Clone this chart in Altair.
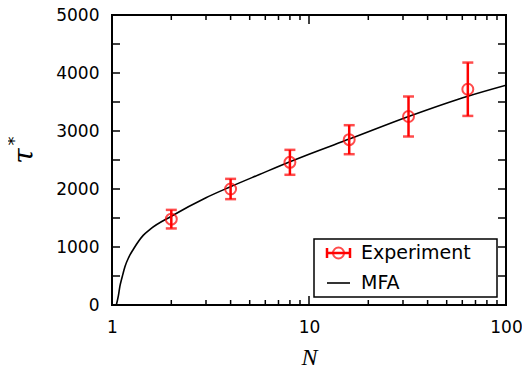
import altair as alt
import pandas as pd

# Experimental data
N_exp = [2, 4, 8, 16, 32, 64]
tau_exp = [1480, 2000, 2460, 2850, 3250, 3720]
err_exp = [160, 175, 215, 250, 345, 460]

# MFA curve
N_mfa = [1.052, 1.077, 1.097, 1.128, 1.163, 1.218, 1.286, 1.44, 1.56, 2, 3, 4, 5.6, 8, 10, 16, 32, 64, 100]
tau_mfa = [0, 156, 324, 492, 660, 827, 966, 1200, 1305, 1530, 1850, 2040, 2250, 2470, 2600, 2860, 3250, 3600, 3790]

# ticks
x_labels = [1, 10, 100]
x_minor = [2, 3, 4, 5, 6, 7, 8, 9, 20, 30, 40, 50, 60, 70, 80, 90]
y_labels = [0, 1000, 2000, 3000, 4000, 5000]
y_ticks = [0, 500, 1000, 1500, 2000, 2500, 3000, 3500, 4000, 4500, 5000]
legend_labels = ["Experiment", "MFA"]

W, H = 394, 290
RED = "#ff0000"

exp_df = pd.DataFrame({"N": N_exp, "tau": tau_exp, "err": err_exp})
exp_df["lo"] = exp_df["tau"] - exp_df["err"]
exp_df["hi"] = exp_df["tau"] + exp_df["err"]
mfa_df = pd.DataFrame({"N": N_mfa, "tau": tau_mfa})
one = pd.DataFrame({"a": [0]})

xs = alt.Scale(type="log", domain=[1, 100], nice=False, padding=0)
ys = alt.Scale(domain=[0, 5000], nice=False, zero=False, padding=0)

xax = alt.Axis(values=x_labels, format="d", ticks=False, domain=False, grid=False, labelFlush=False,
               labelFont="DejaVu Sans", labelFontSize=17, labelColor="black",
               labelPadding=14, title="N", titleFont="Liberation Serif",
               titleFontStyle="italic", titleFontWeight="normal", titleFontSize=24,
               titleColor="black", titlePadding=10)
yax = alt.Axis(values=y_labels, format="d", ticks=False, domain=False, grid=False, labelFlush=False,
               labelFont="DejaVu Sans", labelFontSize=17, labelColor="black",
               labelPadding=13, title=None)

line = alt.Chart(mfa_df).mark_line(color="black", strokeWidth=1.6, interpolate="monotone", clip=True).encode(
    x=alt.X("N:Q", scale=xs, axis=xax),
    y=alt.Y("tau:Q", scale=ys, axis=yax),
)

bars = alt.Chart(exp_df).mark_errorbar(color=RED, thickness=2.5, ticks={"size": 11, "thickness": 2.5}).encode(
    x=alt.X("N:Q", scale=xs),
    y=alt.Y("lo:Q", scale=ys, title=None),
    y2="hi:Q",
)

pts = alt.Chart(exp_df).mark_point(shape="circle", size=120, color=RED, strokeWidth=2, filled=False).encode(
    x=alt.X("N:Q", scale=xs),
    y=alt.Y("tau:Q", scale=ys),
)

# inward ticks
ydf = pd.DataFrame({"v": y_ticks})
xmaj = pd.DataFrame({"v": x_labels})
xmin = pd.DataFrame({"v": x_minor})
tk = dict(color="black", strokeWidth=1.5)
yl = alt.Chart(ydf).mark_rule(**tk).encode(y=alt.Y("v:Q", scale=ys), x=alt.value(0), x2=alt.value(8))
yr = alt.Chart(ydf).mark_rule(**tk).encode(y=alt.Y("v:Q", scale=ys), x=alt.value(W - 8), x2=alt.value(W))
xb1 = alt.Chart(xmaj).mark_rule(**tk).encode(x=alt.X("v:Q", scale=xs), y=alt.value(H), y2=alt.value(H - 9))
xb2 = alt.Chart(xmin).mark_rule(**tk).encode(x=alt.X("v:Q", scale=xs), y=alt.value(H), y2=alt.value(H - 5))
xt1 = alt.Chart(xmaj).mark_rule(**tk).encode(x=alt.X("v:Q", scale=xs), y=alt.value(0), y2=alt.value(9))
xt2 = alt.Chart(xmin).mark_rule(**tk).encode(x=alt.X("v:Q", scale=xs), y=alt.value(0), y2=alt.value(5))

# y title
tau_t = alt.Chart(one).mark_text(text="τ", font="DejaVu Serif", fontStyle="italic", fontSize=28,
                                 angle=270, align="center", baseline="middle", color="black").encode(
    x=alt.value(-87), y=alt.value(141))
star_t = alt.Chart(one).mark_text(text="*", font="DejaVu Sans", fontSize=18,
                                  angle=270, align="center", baseline="middle", color="black").encode(
    x=alt.value(-97), y=alt.value(126))

# legend
box = alt.Chart(one).mark_rect(fill="white", stroke="black", strokeWidth=1.5).encode(
    x=alt.value(202), x2=alt.value(385), y=alt.value(224), y2=alt.value(282))
lg_bar = alt.Chart(one).mark_rule(color=RED, strokeWidth=2.5).encode(
    x=alt.value(215), x2=alt.value(238), y=alt.value(238))
lg_cap1 = alt.Chart(one).mark_rule(color=RED, strokeWidth=2.5).encode(
    x=alt.value(215), y=alt.value(233), y2=alt.value(243))
lg_cap2 = alt.Chart(one).mark_rule(color=RED, strokeWidth=2.5).encode(
    x=alt.value(238), y=alt.value(233), y2=alt.value(243))
lg_pt = alt.Chart(one).mark_point(shape="circle", size=120, color=RED, strokeWidth=2, filled=False).encode(
    x=alt.value(226.5), y=alt.value(238))
lg_line = alt.Chart(one).mark_rule(color="black", strokeWidth=1.6).encode(
    x=alt.value(215), x2=alt.value(238), y=alt.value(268))
txt = dict(font="DejaVu Sans", fontSize=19, align="left", baseline="middle", color="black")
lg_t1 = alt.Chart(one).mark_text(text=legend_labels[0], **txt).encode(x=alt.value(249), y=alt.value(238))
lg_t2 = alt.Chart(one).mark_text(text=legend_labels[1], **txt).encode(x=alt.value(249), y=alt.value(268))

chart = alt.layer(
    line, bars, pts, yl, yr, xb1, xb2, xt1, xt2, tau_t, star_t,
    box, lg_bar, lg_cap1, lg_cap2, lg_pt, lg_line, lg_t1, lg_t2,
).properties(
    width=W, height=H,
    autosize=alt.AutoSizeParams(type="none"),
    padding={"left": 104, "top": 7, "right": 16, "bottom": 64},
).configure_view(stroke="black", strokeWidth=2)

chart.save("out.html", embed_options={"renderer": "svg", "actions": False})
